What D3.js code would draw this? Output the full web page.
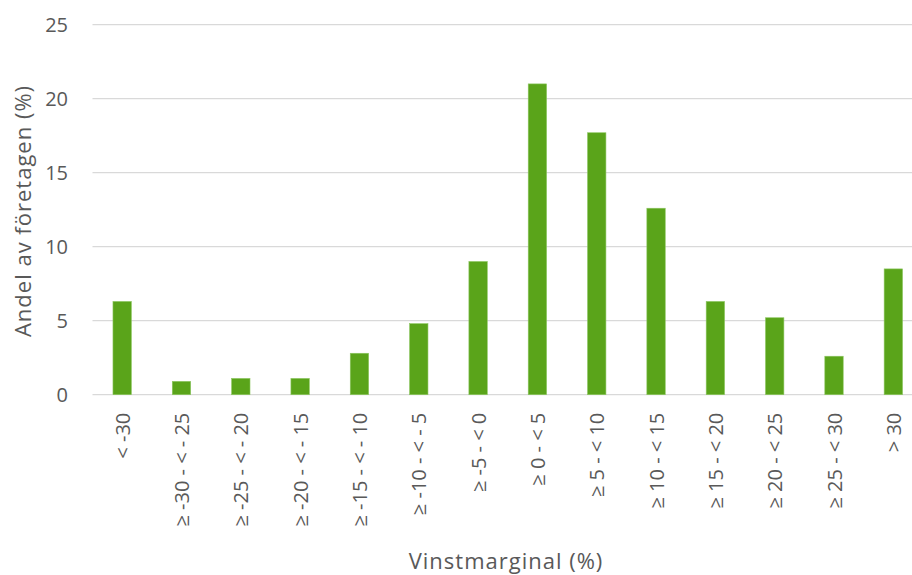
<!DOCTYPE html>
<html>
<head>
<meta charset="utf-8">
<script src="https://cdn.jsdelivr.net/npm/d3@7"></script>
<style>
  html, body { margin: 0; padding: 0; background: #ffffff; }
  svg { display: block; font-family: "Open Sans", "Noto Sans", sans-serif; }
</style>
</head>
<body>
<svg id="chart" width="912" height="575"></svg>
<script>
// Profit margin classes and share of companies (%) in each class
const categories = [
  "< -30", "≥ -30 - < - 25", "≥ -25 - < - 20", "≥ -20 - < - 15", "≥ -15 - < - 10",
  "≥ -10 - < - 5", "≥ -5 - < 0", "≥ 0 - < 5", "≥ 5 - < 10", "≥ 10 - < 15",
  "≥ 15 - < 20", "≥ 20 - < 25", "≥ 25 - < 30", "> 30"
];
const shares = [6.3, 0.9, 1.1, 1.1, 2.8, 4.8, 9.0, 21.0, 17.7, 12.6, 6.3, 5.2, 2.6, 8.5];
const yTicks = [0, 5, 10, 15, 20, 25];
const yTitle = "Andel av företagen (%)";
const xTitle = "Vinstmarginal (%)";

const svg = d3.select("#chart");
const textColor = "#595959";
const barColor = "#5aa41a";

const plot = { left: 92.5, right: 923, top: 24.7, bottom: 394.7 };

const x = d3.scaleBand()
  .domain(categories)
  .range([plot.left, plot.right])
  .paddingInner(0.69)
  .paddingOuter(0.345);

const y = d3.scaleLinear()
  .domain([0, 25])
  .range([plot.bottom, plot.top]);

// Horizontal gridlines
svg.append("g")
  .selectAll("line")
  .data(yTicks)
  .join("line")
  .attr("x1", plot.left)
  .attr("x2", plot.right)
  .attr("y1", d => y(d))
  .attr("y2", d => y(d))
  .attr("stroke", "#d9d9d9")
  .attr("stroke-width", 1.3);

// Y axis tick labels
const yAxis = d3.axisLeft(y).tickValues(yTicks).tickSize(0).tickPadding(0);
const gy = svg.append("g")
  .attr("transform", `translate(68,0)`)
  .call(yAxis);
gy.select(".domain").remove();
gy.selectAll("text")
  .attr("fill", textColor)
  .attr("font-size", "20px")
  .attr("font-family", "\"Open Sans\", sans-serif");

// Bars
svg.append("g")
  .selectAll("rect")
  .data(shares)
  .join("rect")
  .attr("x", (d, i) => x(categories[i]))
  .attr("width", x.bandwidth())
  .attr("y", d => y(d))
  .attr("height", d => y(0) - y(d))
  .attr("fill", barColor)
  .attr("stroke", "#8cc660")
  .attr("stroke-width", 0.6);

// X axis category labels, rotated
const xAxis = d3.axisBottom(x).tickSize(0).tickPadding(0);
const gx = svg.append("g")
  .attr("transform", `translate(0,${plot.bottom})`)
  .call(xAxis);
gx.select(".domain").remove();
gx.selectAll("text")
  .attr("fill", textColor)
  .attr("font-size", "20px")
  .attr("font-family", "\"Open Sans\", sans-serif")
  .attr("text-anchor", "end")
  .attr("dy", null)
  .attr("y", 0)
  .attr("transform", "translate(0,18) rotate(-90)")
  .attr("dominant-baseline", "central");

// Axis titles
svg.append("text")
  .attr("x", 506)
  .attr("y", 560)
  .attr("text-anchor", "middle")
  .attr("dominant-baseline", "central")
  .attr("fill", textColor)
  .attr("font-size", "22px")
  .attr("letter-spacing", "1px")
  .text(xTitle);

svg.append("text")
  .attr("transform", "translate(22,211) rotate(-90)")
  .attr("text-anchor", "middle")
  .attr("dominant-baseline", "central")
  .attr("fill", textColor)
  .attr("font-size", "22px")
  .attr("letter-spacing", "1px")
  .text(yTitle);
</script>
</body>
</html>
